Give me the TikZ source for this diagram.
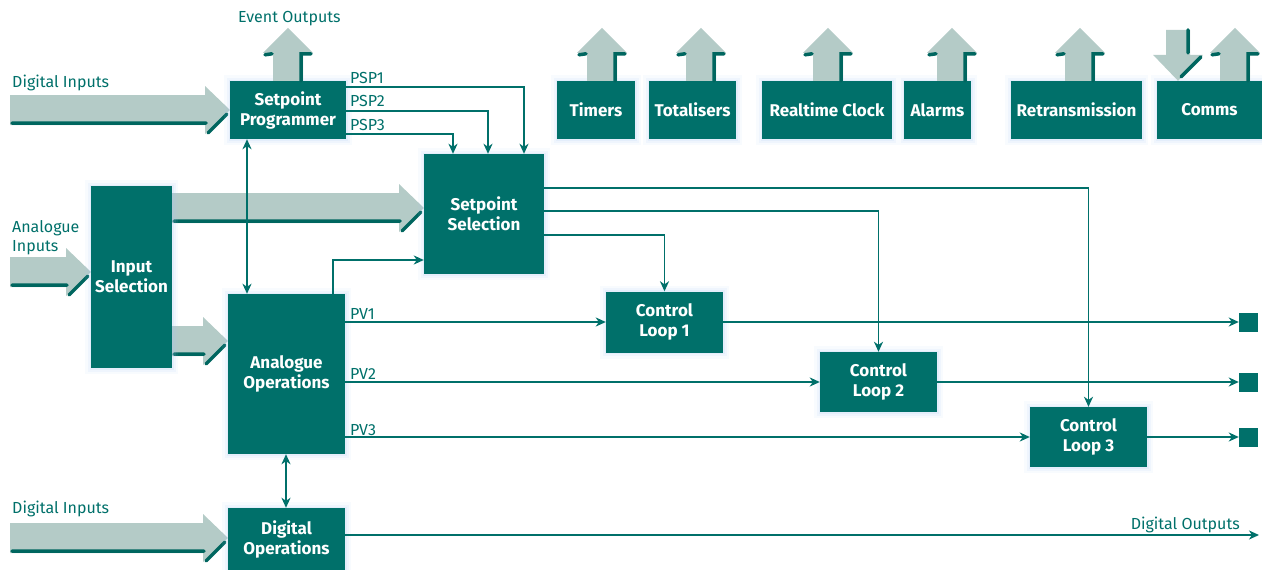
\documentclass[tikz,border=0pt]{standalone}
\usepackage{fontspec}
\setmainfont{Fira Sans}
\usetikzlibrary{arrows.meta,calc}
\definecolor{teal1}{HTML}{00706A}
\definecolor{fatc}{HTML}{B4CBC7}
\definecolor{fatd}{HTML}{00665F}
\definecolor{glowc}{HTML}{A8C8F2}
\newcommand\hfat[2]{%
  \fill[fatc] let \p1=#1, \p2=#2 in
    (\x1,\y2+15pt) -- (\x2-25pt,\y2+15pt) -- (\x2-25pt,\y2+24pt) -- (\x2,\y2)
    -- (\x2-25pt,\y2-24pt) -- (\x2-25pt,\y2-15pt) -- (\x1,\y2-15pt) -- cycle;
  \draw[fatdark] let \p1=#1, \p2=#2 in
    (\x1+2pt,\y2-13pt) -- (\x2-24pt,\y2-13pt)
    (\x2-22pt,\y2-23pt) -- (\x2-3pt,\y2-4pt);
}
\newcommand\vfatup[1]{%
  \fill[fatc] let \p1=#1 in
    (\x1-15pt,\y1) -- (\x1-15pt,\y1+28pt) -- (\x1-25pt,\y1+28pt) -- (\x1,\y1+53pt)
    -- (\x1+25pt,\y1+28pt) -- (\x1+15pt,\y1+28pt) -- (\x1+15pt,\y1) -- cycle;
  \draw[fatdark] let \p1=#1 in
    (\x1+13pt,\y1) -- (\x1+13pt,\y1+27pt) -- (\x1+23pt,\y1+27pt)
    (\x1-23pt,\y1+26pt) -- (\x1-16pt,\y1+27pt);
}
\newcommand\vfatdown[1]{%
  \fill[fatc] let \p1=#1 in
    (\x1-12pt,\y1+51pt) -- (\x1-12pt,\y1+26pt) -- (\x1-25pt,\y1+26pt) -- (\x1,\y1)
    -- (\x1+25pt,\y1+26pt) -- (\x1+12pt,\y1+26pt) -- (\x1+12pt,\y1+51pt) -- cycle;
  \draw[fatdark] let \p1=#1 in
    (\x1+10pt,\y1+51pt) -- (\x1+10pt,\y1+28pt)
    (\x1+23pt,\y1+24pt) -- (\x1+3pt,\y1+4pt);
}
\begin{document}
\begin{tikzpicture}[x=1pt,y=-1pt,
  fatdark/.style={draw=fatd,line width=3.5pt,line cap=round},
  box/.style={fill=teal1,text=white,font=\bfseries\fontsize{17}{20}\selectfont,
    align=center,inner sep=0pt,
    preaction={draw=glowc,line width=12pt,opacity=0.08},
    preaction={draw=glowc,line width=7pt,opacity=0.11},
    preaction={draw=glowc,line width=3pt,opacity=0.16}},
  lbl/.style={text=teal1,font=\fontsize{16}{19}\selectfont,inner sep=0pt,align=left},
  conn/.style={draw=teal1,line width=1.8pt,-{Stealth[length=10pt,width=9pt,inset=3pt]}},
  conn2/.style={draw=teal1,line width=1.8pt,{Stealth[length=10pt,width=9pt,inset=3pt]}-{Stealth[length=10pt,width=9pt,inset=3pt]}},
  sq/.style={fill=teal1,minimum width=19pt,minimum height=19pt,inner sep=0pt}]
\useasboundingbox (0,0) rectangle (1262,570);

% fat arrows (drawn first)
\coordinate (di1) at (10,110);
\coordinate (ai) at (10,272);
\coordinate (di2) at (10,538);
\coordinate (isA) at (172,208);
\coordinate (isB) at (172,341);
\hfat{(di1)}{(230,110)}
\hfat{(ai)}{(91,272)}
\hfat{(isA)}{(424,208)}
\hfat{(isB)}{(228,341)}
\hfat{(di2)}{(228,538)}

% boxes
\node[box,minimum width=116pt,minimum height=58pt] (spp) at (288,110) {Setpoint\\Programmer};
\node[box,minimum width=120pt,minimum height=120pt] (sps) at (484,214) {Setpoint\\Selection};
\node[box,minimum width=81pt,minimum height=182pt] (insel) at (131.5,277) {Input\\Selection};
\node[box,minimum width=117pt,minimum height=160pt] (anop) at (286.5,374) {Analogue\\Operations};
\node[box,minimum width=117pt,minimum height=62pt] (digop) at (286.5,539) {Digital\\Operations};
\node[box,minimum width=117pt,minimum height=61pt] (cl1) at (664.5,322) {Control\\Loop 1};
\node[box,minimum width=117pt,minimum height=60pt] (cl2) at (878.5,382) {Control\\Loop 2};
\node[box,minimum width=117pt,minimum height=60pt] (cl3) at (1088.5,437) {Control\\Loop 3};
\node[box,minimum width=78pt,minimum height=58pt] (tim) at (596,110) {Timers};
\node[box,minimum width=87pt,minimum height=58pt] (tot) at (692.5,110) {Totalisers};
\node[box,minimum width=130pt,minimum height=58pt] (rtc) at (827,110) {Realtime Clock};
\node[box,minimum width=67pt,minimum height=58pt] (alm) at (937.5,110) {Alarms};
\node[box,minimum width=131pt,minimum height=58pt] (ret) at (1076.5,110) {Retransmission};
\node[box,minimum width=105pt,minimum height=58pt] (com) at (1209.5,110) {Comms};
\node[sq] (sq1) at (1248.5,322) {};
\node[sq] (sq2) at (1248.5,382) {};
\node[sq] (sq3) at (1248.5,437) {};

% up / down fat arrows
\vfatup{(spp.north -| 288,0)}
\vfatup{(tim.north -| 602,0)}
\vfatup{(tot.north -| 701,0)}
\vfatup{(rtc.north -| 828,0)}
\vfatup{(alm.north -| 952,0)}
\vfatup{(ret.north -| 1080,0)}
\vfatup{(com.north -| 1235,0)}
\vfatdown{(com.north -| 1178,0)}

% labels
\node[lbl,anchor=base west] at (238,23) {Event Outputs};
\node[lbl,anchor=base west] at (12,87) {Digital Inputs};
\node[lbl,anchor=base west] at (12,232) {Analogue};
\node[lbl,anchor=base west] at (12,251) {Inputs};
\node[lbl,anchor=base west] at (12,513) {Digital Inputs};
\node[lbl,anchor=base east] at (1240,529) {Digital Outputs};
\node[lbl,anchor=base west] at (350,83) {PSP1};
\node[lbl,anchor=base west] at (350,106) {PSP2};
\node[lbl,anchor=base west] at (350,130) {PSP3};
\node[lbl,anchor=base west] at (350,319) {PV1};
\node[lbl,anchor=base west] at (350,379) {PV2};
\node[lbl,anchor=base west] at (350,435) {PV3};

% connectors
\draw[conn] (spp.east |- 0,87) -| (sps.north -| 524,0);
\draw[conn] (spp.east |- 0,111) -| (sps.north -| 488,0);
\draw[conn] (spp.east |- 0,134) -| (sps.north -| 453,0);
\draw[conn2] (spp.south -| 247,0) -- (anop.north -| 247,0);
\draw[conn] (anop.north -| 333,0) |- (sps.west |- 0,260);
\draw[conn] (anop.east |- cl1.west) -- (cl1.west);
\draw[conn] (anop.east |- cl2.west) -- (cl2.west);
\draw[conn] (anop.east |- cl3.west) -- (cl3.west);
\draw[conn] (sps.east |- 0,188) -| (cl3.north);
\draw[conn] (sps.east |- 0,211) -| (cl2.north);
\draw[conn] (sps.east |- 0,235) -| (cl1.north);
\draw[conn] (cl1.east) -- (sq1.west);
\draw[conn] (cl2.east) -- (sq2.west);
\draw[conn] (cl3.east) -- (sq3.west);
\draw[conn2] (anop.south -| 286,0) -- (digop.north -| 286,0);
\coordinate (dout) at (1259,535);
\draw[conn] (digop.east |- dout) -- (dout);
\end{tikzpicture}
\end{document}
